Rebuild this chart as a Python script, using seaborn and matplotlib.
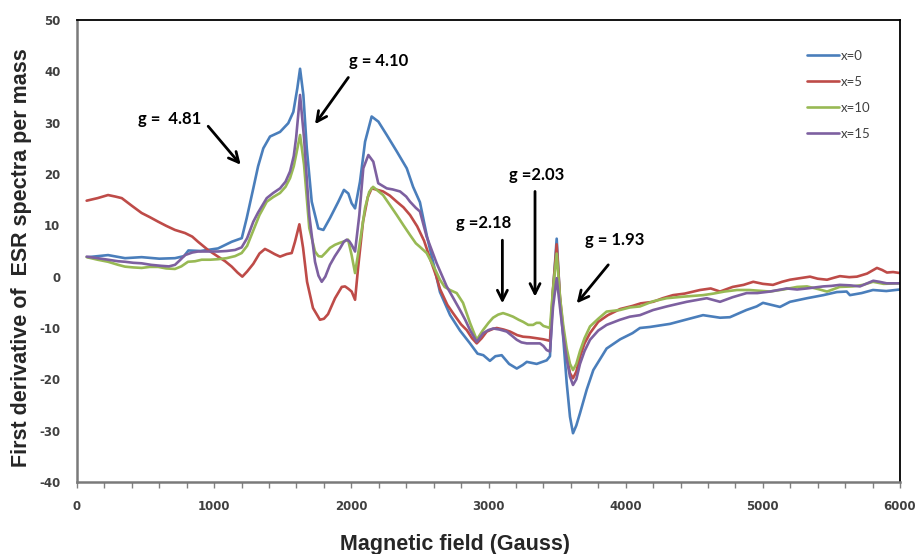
import matplotlib
matplotlib.use("Agg")
import matplotlib.pyplot as plt
import seaborn as sns
import pandas as pd
from matplotlib.ticker import MultipleLocator

# ---------------- data ----------------
series_names = ["x=0", "x=5", "x=10", "x=15"]
series_colors = ["#4A7EBB", "#BE4B48", "#98B954", "#7D60A0"]

blue_x = [80, 226, 350, 471, 600, 714, 780, 812, 900, 1028, 1128, 1201, 1237, 1285, 1320, 1358, 1407,
          1480, 1540, 1577, 1606, 1626, 1650, 1675, 1711, 1759, 1796, 1844, 1905, 1946, 1978, 2002,
          2027, 2063, 2100, 2148, 2197, 2258, 2331, 2404, 2450, 2500, 2550, 2598, 2646, 2720, 2792,
          2865, 2920, 2962, 3010, 3050, 3096, 3150, 3206, 3250, 3279, 3351, 3424, 3448, 3470, 3497,
          3521, 3545, 3570, 3594, 3616, 3640, 3667, 3716, 3764, 3861, 3960, 4050, 4104, 4177, 4323,
          4450, 4564, 4688, 4760, 4880, 4955, 5001, 5125, 5198, 5322, 5441, 5540, 5611, 5635, 5720,
          5803, 5900, 6000]
blue_y = [3.8, 4.2, 3.6, 3.8, 3.5, 3.6, 4.0, 5.1, 5.0, 5.5, 6.8, 7.5, 11.4, 17.2, 21.5, 25.0, 27.3,
          28.2, 29.9, 32.1, 36.7, 40.5, 35.4, 25.0, 14.6, 9.4, 9.1, 11.4, 14.6, 16.9, 16.2, 14.3,
          13.3, 18.5, 26.3, 31.2, 30.2, 27.6, 24.4, 21.1, 17.5, 14.5, 8.0, 2.6, -3.0, -7.5, -10.5,
          -13.0, -15.0, -15.3, -16.4, -15.5, -15.3, -17.0, -17.9, -17.2, -16.6, -17.0, -16.3, -15.5, -3.0, 7.4,
          -4.5, -12.0, -20.7, -27.3, -30.5, -29.0, -26.6, -22.0, -18.2, -14.0, -12.2, -11.0, -10.0, -9.8, -9.2,
          -8.3, -7.5, -8.0, -7.9, -6.5, -5.8, -5.1, -5.9, -4.9, -4.2, -3.6, -3.0, -2.9, -3.6, -3.2,
          -2.6, -2.8, -2.5]

red_x = [70, 150, 226, 280, 326, 400, 471, 530, 592, 650, 714, 787, 840, 882, 955, 1028, 1080, 1128,
         1170, 1205, 1240, 1285, 1330, 1370, 1400, 1440, 1480, 1529, 1565, 1589, 1621, 1648, 1677,
         1720, 1771, 1800, 1830, 1881, 1930, 1954, 1980, 2002, 2027, 2049, 2085, 2120, 2148, 2190,
         2231, 2280, 2331, 2380, 2428, 2480, 2530, 2574, 2620, 2646, 2700, 2741, 2800, 2841, 2880,
         2914, 2950, 2987, 3030, 3060, 3110, 3157, 3210, 3252, 3300, 3351, 3400, 3448, 3470, 3497,
         3521, 3545, 3570, 3594, 3616, 3640, 3667, 3700, 3740, 3800, 3870, 3960, 4050, 4110, 4200,
         4270, 4345, 4430, 4542, 4620, 4688, 4780, 4860, 4930, 5000, 5074, 5140, 5198, 5270, 5344,
         5400, 5468, 5520, 5562, 5630, 5686, 5760, 5832, 5870, 5905, 5950, 6000]
red_y = [14.8, 15.3, 15.9, 15.6, 15.3, 13.8, 12.4, 11.6, 10.7, 9.9, 9.1, 8.5, 7.8, 6.8, 5.2, 3.9, 3.0, 1.95,
         0.8, 0.0, 1.0, 2.5, 4.5, 5.4, 5.0, 4.4, 3.9, 4.4, 4.6, 6.8, 10.2, 5.6, -1.0,
         -6.1, -8.4, -8.2, -7.3, -4.2, -2.0, -1.9, -2.4, -2.9, -4.5, 1.7, 10.7, 15.5, 17.2, 16.9,
         16.6, 15.8, 14.6, 13.5, 12.0, 9.8, 7.0, 3.5, 0.0, -2.4, -5.5, -7.1, -9.3, -10.4, -12.0,
         -13.0, -12.0, -10.7, -10.2, -10.0, -10.3, -10.7, -11.4, -11.7, -11.8, -12.0, -12.2, -12.5, -2.5, 6.3,
         -4.0, -10.5, -15.5, -18.8, -19.8, -18.5, -15.6, -13.0, -11.0, -8.8, -7.5, -6.3, -5.7, -5.2, -4.9,
         -4.2, -3.6, -3.3, -2.6, -2.3, -2.9, -2.0, -1.6, -1.0, -1.4, -1.6, -1.0, -0.6, -0.3, 0.0,
         -0.4, -0.6, -0.2, 0.1, -0.1, 0.0, 0.6, 1.7, 1.3, 0.8, 0.9, 0.7]

green_x = [70, 150, 226, 300, 350, 410, 471, 530, 592, 650, 714, 760, 809, 860, 909, 970, 1028, 1090,
           1152, 1200, 1240, 1285, 1330, 1383, 1430, 1480, 1520, 1553, 1580, 1597, 1626, 1655, 1693,
           1735, 1760, 1784, 1810, 1844, 1880, 1917, 1950, 1976, 2002, 2027, 2056, 2100, 2130, 2158,
           2190, 2231, 2280, 2331, 2380, 2428, 2470, 2500, 2549, 2600, 2646, 2680, 2719, 2768, 2814,
           2865, 2914, 2960, 3000, 3033, 3070, 3106, 3140, 3179, 3220, 3252, 3290, 3325, 3350, 3375,
           3400, 3448, 3470, 3497, 3521, 3545, 3570, 3594, 3616, 3640, 3667, 3700, 3740, 3800, 3861,
           3958, 4030, 4104, 4200, 4299, 4420, 4564, 4640, 4720, 4812, 4900, 5052, 5150, 5250, 5322,
           5400, 5468, 5560, 5657, 5730, 5803, 5880, 6000]
green_y = [3.8, 3.3, 2.9, 2.3, 1.95, 1.8, 1.7, 1.9, 1.9, 1.6, 1.5, 2.0, 2.9, 3.0, 3.3, 3.3, 3.4, 3.6,
           4.0, 4.6, 6.0, 9.0, 12.0, 14.6, 15.5, 16.3, 17.5, 19.2, 21.5, 23.7, 27.6, 21.8, 9.5,
           4.9, 4.0, 3.9, 4.6, 5.6, 6.2, 6.6, 6.9, 7.2, 4.2, 0.7, 5.6, 13.4, 16.5, 17.5,
           16.8, 15.9, 14.0, 12.0, 10.0, 8.1, 6.5, 5.8, 4.6, 2.0, -0.6, -2.0, -2.6, -3.2, -5.1,
           -9.0, -12.3, -10.4, -9.0, -8.0, -7.4, -7.1, -7.4, -7.8, -8.4, -8.8, -9.4, -9.4, -9.0, -9.0,
           -9.6, -10.0, -2.5, 4.5, -4.0, -9.5, -14.0, -17.0, -18.2, -17.0, -14.5, -12.0, -9.7, -8.2, -6.8,
           -6.5, -6.0, -5.8, -4.8, -4.2, -3.9, -3.6, -3.3, -2.9, -2.6, -2.6, -2.9, -2.5, -2.0, -1.9,
           -2.4, -2.9, -2.0, -1.9, -1.6, -1.0, -1.4, -1.3]

purple_x = [70, 150, 226, 300, 350, 410, 471, 540, 617, 670, 714, 750, 787, 840, 882, 960, 1028, 1090,
            1152, 1200, 1240, 1285, 1320, 1383, 1430, 1480, 1520, 1553, 1580, 1597, 1626, 1655, 1693,
            1735, 1760, 1784, 1810, 1844, 1880, 1917, 1945, 1966, 1985, 2002, 2027, 2058, 2087, 2124,
            2160, 2196, 2258, 2300, 2355, 2400, 2428, 2470, 2500, 2549, 2622, 2695, 2750, 2792, 2830,
            2865, 2914, 2962, 3000, 3035, 3080, 3133, 3170, 3206, 3240, 3279, 3330, 3375, 3400, 3424,
            3448, 3470, 3497, 3521, 3545, 3570, 3594, 3616, 3640, 3667, 3700, 3740, 3800, 3861, 3958,
            4030, 4104, 4200, 4300, 4380, 4445, 4591, 4688, 4780, 4882, 4960, 5052, 5174, 5250, 5320,
            5441, 5500, 5562, 5640, 5708, 5805, 5850, 5903, 6000]
purple_y = [3.9, 3.6, 3.3, 3.0, 2.9, 2.7, 2.6, 2.3, 2.1, 2.0, 2.3, 3.2, 4.2, 4.7, 4.9, 4.9, 4.9, 5.0,
            5.2, 5.7, 7.5, 10.7, 12.5, 15.3, 16.3, 17.2, 18.5, 20.5, 23.5, 27.0, 35.4, 27.0, 12.0,
            2.9, 0.2, -1.0, 0.0, 2.3, 4.0, 5.5, 6.8, 7.2, 6.9, 6.2, 4.9, 12.0, 21.1, 23.7,
            22.4, 18.2, 17.2, 17.0, 16.6, 15.6, 14.6, 13.4, 12.7, 7.8, 2.6, -1.9, -4.5, -6.5, -8.4,
            -10.4, -12.7, -11.0, -10.4, -10.1, -10.3, -10.7, -11.5, -12.3, -12.8, -13.0, -13.0, -13.0, -13.5, -14.3,
            -14.6, -6.0, -0.3, -6.0, -11.5, -16.0, -19.5, -21.1, -20.0, -17.0, -14.5, -12.3, -10.5, -9.4, -8.4,
            -7.8, -7.5, -6.5, -5.8, -5.3, -4.9, -4.2, -4.9, -4.0, -3.2, -3.2, -2.9, -2.3, -2.5, -2.3,
            -1.9, -1.8, -1.6, -1.7, -1.9, -0.8, -1.0, -1.3, -1.3]

x_ticks = [0, 1000, 2000, 3000, 4000, 5000, 6000]
y_ticks = [-40, -30, -20, -10, 0, 10, 20, 30, 40, 50]

ann_labels = ["g =  4.81", "g = 4.10", "g =2.18", "g =2.03", "g = 1.93"]
ann_text_x = [674, 2199, 2963, 3350, 3922]
ann_text_y = [30.7, 42.0, 10.4, 19.8, 7.05]
ann_tail_x = [956, 1978, 3101, 3339, 3873]
ann_tail_y = [29.3, 38.8, 7.1, 16.6, 2.3]
ann_head_x = [1193, 1735, 3101, 3339, 3643]
ann_head_y = [21.8, 29.7, -5.2, -3.9, -5.2]

# ---------------- build a long table ----------------
frames = []
for name, xs, ys in zip(series_names,
                        [blue_x, red_x, green_x, purple_x],
                        [blue_y, red_y, green_y, purple_y]):
    frames.append(pd.DataFrame({"field": xs, "value": ys, "series": name}))
df = pd.concat(frames, ignore_index=True)

# ---------------- plot ----------------
sns.set_style("white")
plt.rcParams["font.family"] = ["DejaVu Sans"]
plt.rcParams["axes.unicode_minus"] = False

fig = plt.figure(figsize=(9.15, 5.54), dpi=100)
ax = fig.add_axes([0.0842, 0.13, 0.8994, 0.8339])

sns.lineplot(data=df, x="field", y="value", hue="series", hue_order=series_names,
             palette=dict(zip(series_names, series_colors)), estimator=None, sort=False,
             linewidth=1.9, ax=ax)

ax.set_xlim(0, 6000)
ax.set_ylim(-40, 50)
ax.set_xticks(x_ticks)
ax.set_yticks(y_ticks)
ax.xaxis.set_minor_locator(MultipleLocator(200))

for t in ax.get_xticklabels() + ax.get_yticklabels():
    t.set_fontweight("bold")
    t.set_fontsize(8.5)
    t.set_color("#404040")

ax.tick_params(axis="x", which="both", direction="out", length=4, width=1, color="#808080",
               pad=9, bottom=True)
ax.tick_params(axis="y", which="both", length=0, pad=12)

for side in ["left", "bottom"]:
    ax.spines[side].set_color("#7a7a7a")
    ax.spines[side].set_linewidth(1.8)
for side in ["top", "right"]:
    ax.spines[side].set_color("black")
    ax.spines[side].set_linewidth(1.3)

ax.set_xlabel("Magnetic field (Gauss)", fontsize=15.5, fontweight="bold",
              family="Liberation Sans")
ax.set_ylabel("First derivative of  ESR spectra per mass", fontsize=15.5, fontweight="bold",
              family="Liberation Sans")
ax.xaxis.set_label_coords(0.459, -0.112)
ax.yaxis.set_label_coords(-0.0547, 0.486)

# legend
handles, labels = ax.get_legend_handles_labels()
ax.legend(handles, labels, loc="upper left", bbox_to_anchor=(0.887, 0.935), frameon=False,
          prop={"family": "Lato", "size": 9.5}, labelcolor="#404040",
          handlelength=2.4, handletextpad=0.2, labelspacing=1.05, borderpad=0, borderaxespad=0)

# annotations
for lab, tx, ty in zip(ann_labels, ann_text_x, ann_text_y):
    ax.text(tx, ty, lab, ha="center", va="center", fontsize=12, fontweight="bold",
            family="Lato", color="black")
for hx, hy, sx, sy in zip(ann_head_x, ann_head_y, ann_tail_x, ann_tail_y):
    ax.annotate("", xy=(hx, hy), xytext=(sx, sy),
                arrowprops=dict(arrowstyle="->", lw=2.0, color="black", mutation_scale=18,
                                shrinkA=0, shrinkB=0))

fig.savefig("out.png", dpi=100)
